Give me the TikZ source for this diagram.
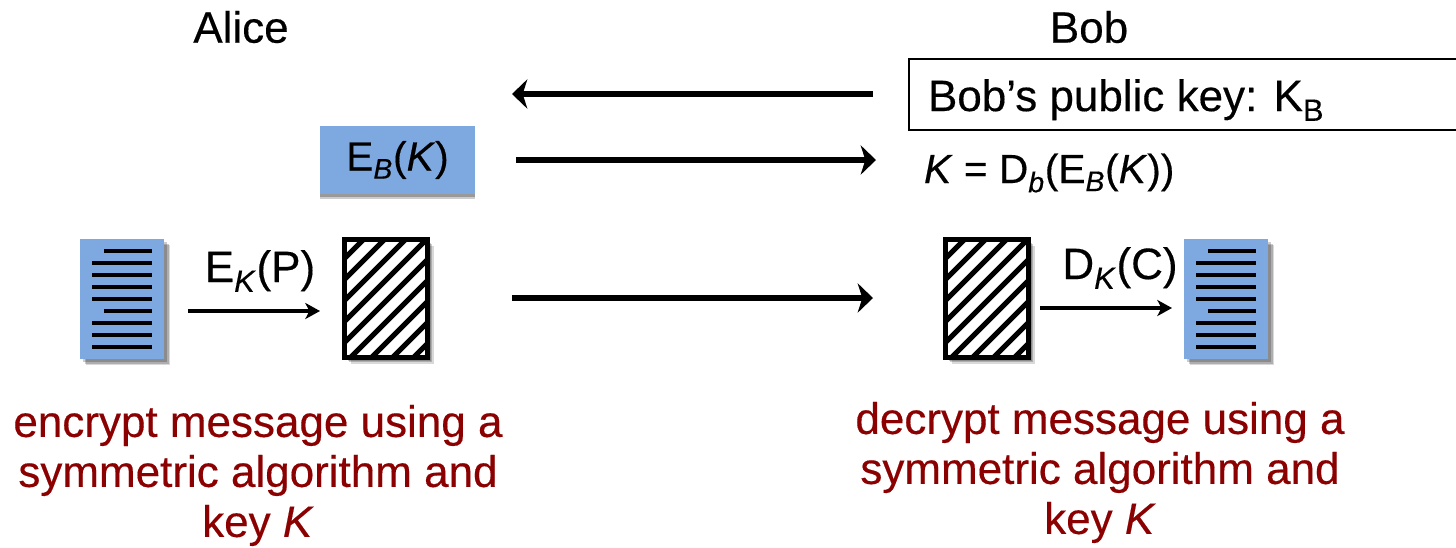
\documentclass[tikz,border=0pt]{standalone}
\usepackage{fontspec}
\setmainfont[FakeBold=0.35]{Liberation Sans}
\usepackage{tikz}
\usetikzlibrary{arrows.meta}
\usetikzlibrary{calc}
\usetikzlibrary{shadows}
\definecolor{docblue}{HTML}{7EA9E0}
\definecolor{notered}{HTML}{8B0000}
\newcommand{\subit}[1]{\textsubscript{\textit{#1}}}

\begin{document}
\begin{tikzpicture}[x=0.75pt,y=-0.75pt,
  every node/.style={font=\fontsize{33}{37.5}\selectfont,inner sep=0pt,outer sep=0pt},
  small text/.style={font=\fontsize{30.5}{34}\selectfont},
  big arrow/.style={-{Stealth[length=11.5pt,width=22pt,inset=3.5pt]},line width=4.5pt},
  small arrow/.style={-{Stealth[length=11pt,width=12pt,inset=3pt]},line width=2.5pt},
  soft shadow/.style={
    drop shadow={shadow xshift=2.5pt,shadow yshift=-2.5pt,fill=black,opacity=0.2},
    drop shadow={shadow xshift=3.5pt,shadow yshift=-3.5pt,fill=black,opacity=0.2},
    drop shadow={shadow xshift=4.5pt,shadow yshift=-4.5pt,fill=black,opacity=0.15}},
  doc node/.style={fill=docblue,minimum width=63pt,minimum height=90pt,soft shadow},
  cipher node/.style={draw,line width=3.75pt,fill=white,minimum width=62.25pt,minimum height=88.5pt,soft shadow,
    path picture={
      \foreach \s in {-120,-99,...,100}
        \draw[line width=3.75pt] ($(path picture bounding box.south west)+(\s,0)$) -- ++(130,-130);
    }},
  note text/.style={text=notered,align=center}]

  \useasboundingbox (0,0) rectangle (1456,547);
  \clip (0,0) rectangle (1456,547);

  \node (alice) at (241,27) {Alice};
  \node (bob) at (1089,27) {Bob};

  \node[draw,line width=1.5pt,minimum width=422pt,minimum height=53pt] (pubkey) at (1190,94.5) {};
  \node[anchor=west] (pubtext) at (928,100) {Bob’s public key: K\textsubscript{B}};
  \node[small text,fill=docblue,minimum width=116pt,minimum height=51pt,
    drop shadow={shadow xshift=0pt,shadow yshift=-2pt,fill=black,opacity=0.25},
    drop shadow={shadow xshift=0pt,shadow yshift=-3.5pt,fill=black,opacity=0.2}] (ebox) at (397.5,160) {\raisebox{-2.5pt}{E\subit{B}(\textit{K})}};
  \node[small text,anchor=west] (dtext) at (924,173) {\textit{K} = D\textsubscript{\textit{b}}(E\subit{B}(\textit{K}))};

  \node[doc node] (plain) at (122,299) {};
  \node[cipher node] (cipher) at (386,298.5) {};
  \node[cipher node] (recv) at (987,298.5) {};
  \node[doc node] (clear) at (1226,299) {};

  % text lines on both pages
  \foreach \d in {plain,clear}{
    \foreach \k in {1,...,9}{
      \pgfmathsetmacro{\st}{(\k==1||\k==6)?24:12}
      \draw[line width=3pt] ($(\d.north west)+(\st,12*\k)$) -- ($(\d.north west)+(72,12*\k)$);
    }
  }

  \node (enc) at (260,271) {E\subit{K}(P)};
  \node (dec) at (1120,268) {D\subit{K}(C)};

  \coordinate (a1) at (873,94);
  \coordinate (a2) at (512,94);
  \coordinate (b1) at (516,160);
  \coordinate (b2) at (876,160);
  \coordinate (c1) at (512,298);
  \coordinate (c2) at (873,298);
  \coordinate (d1) at (188,311);
  \coordinate (d2) at (320,311);
  \coordinate (e1) at (1040,308);
  \coordinate (e2) at (1172,308);

  \draw[big arrow] (a1) -- (a2);
  \draw[big arrow] (b1) -- (b2);
  \draw[big arrow] (c1) -- (c2);
  \draw[small arrow] (d1) -- (d2);
  \draw[small arrow] (e1) -- (e2);

  \node[note text] (left note) at (258,475.5) {encrypt message using a\\symmetric algorithm and\\key \textit{K}};
  \node[note text] (right note) at (1100,472.5) {decrypt message using a\\symmetric algorithm and\\key \textit{K}};
\end{tikzpicture}
\end{document}
